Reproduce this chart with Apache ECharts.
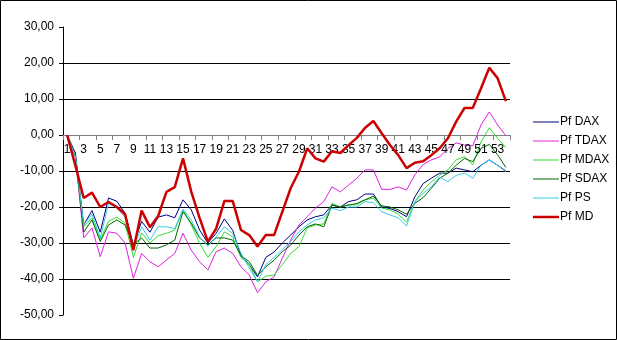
<!DOCTYPE html>
<html>
<head>
<meta charset="utf-8">
<script src="https://cdn.jsdelivr.net/npm/echarts@6/dist/echarts.min.js"></script>
<style>
html,body{margin:0;padding:0;background:#fff;}
#c{width:617px;height:340px;}
</style>
</head>
<body>
<div id="c"></div>
<script>
var categories = [];
for (var i = 1; i <= 54; i++) categories.push(String(i));

var seriesNames = ['Pf DAX', 'Pf TDAX', 'Pf MDAX', 'Pf SDAX', 'Pf PS', 'Pf MD'];

var pfDAX = [0, -5, -25, -21, -27, -17.5, -18.4, -21.7, -30.5, -24, -27, -22.8, -22.2, -23, -18, -20.8, -26.4, -30, -27.3, -23.3, -26.5, -33.5, -36, -39.4, -34, -32.5, -30, -27.8, -25.5, -23.6, -22.7, -22.2, -19.4, -20, -18.5, -18, -16.4, -16.4, -20, -20.4, -21.3, -22.7, -17.2, -13.5, -12, -10.6, -10.6, -9.2, -9.7, -10.2, -8.4, -6.9, -8.4, -10];
var pfTDAX = [0, -6, -28.6, -25.8, -33.8, -26.9, -27.3, -30, -39.8, -32.9, -35.2, -36.6, -34.7, -32.9, -27.3, -32, -35.2, -37.5, -32.4, -31.4, -32.9, -36.6, -38.9, -43.8, -40.8, -39.4, -34.2, -29.2, -25, -22.7, -20.3, -18.5, -14.4, -15.8, -13.9, -12, -9.7, -9.7, -15.1, -15.1, -14.4, -15.3, -11.1, -8.2, -6.9, -6.1, -3.7, -2.2, -2.8, -3, 2.8, 6.4, 2.8, -0.2];
var pfMDAX = [0, -6, -25.5, -23, -29, -24, -22.8, -24.5, -34, -27.2, -30, -28, -27.3, -26.4, -20.8, -25, -30, -34, -31, -26.9, -28.3, -34, -36, -40.8, -39.2, -38.9, -36, -32.9, -31, -25.8, -25, -24.7, -19, -20, -19.4, -19.4, -18, -17.5, -20.3, -20.8, -22, -24.2, -18.6, -15.3, -13, -11.1, -9.7, -6.9, -6, -8.3, -1.9, 2, -0.9, -3.5];
var pfSDAX = [0, -6, -27, -23.6, -29.6, -25, -23.6, -25, -30.5, -28.6, -31.4, -31.4, -30.5, -29.2, -21.3, -24.5, -28.6, -30.5, -28.6, -28.6, -29.2, -33.5, -35.2, -39, -36.6, -34.8, -32.4, -30.6, -27.8, -25.5, -24.7, -25.5, -19.5, -20, -19.5, -19, -18, -17, -19.7, -20, -20.8, -22, -19, -17.4, -14.8, -12, -10.6, -8.4, -6.5, -7.4, -3.7, -2.6, -5.5, -9];
var pfPS = [0, -6, -25, -22, -28.6, -19, -20.2, -22.8, -31.4, -25.5, -29.2, -25.5, -25.5, -26, -20.6, -23.6, -28.3, -31, -28.3, -25.5, -27.4, -32.8, -37, -40.8, -36, -34, -31.8, -29.6, -26.9, -25, -23.6, -23, -20.3, -21, -20, -20, -18.5, -18.8, -21.3, -22.2, -23, -25.3, -18.6, -16.2, -14.4, -11.7, -13, -11.2, -10.6, -12, -8.4, -6.9, -8.4, -10.2];
var pfMD = [0, -8.5, -17.5, -16, -20, -18.6, -20, -22, -32, -21, -25.6, -22.5, -15.8, -14.5, -6.5, -15.8, -23, -29.6, -26, -18.3, -18.3, -26.4, -27.8, -31, -27.8, -27.8, -21.3, -14.8, -10.2, -3.7, -6.5, -7.4, -4.5, -5, -2.8, -0.8, 2, 3.9, 0.5, -2.8, -5.6, -9.2, -7.7, -7.3, -5.6, -3.7, -0.9, 3.7, 7.5, 7.5, 13, 18.7, 15.8, 9.4];

var yTicks = [-50, -40, -30, -20, -10, 0, 10, 20, 30];

var colors = ['#000080', '#e020e0', '#33dd33', '#006400', '#33ccee', '#cc0000'];
var dataSets = [pfDAX, pfTDAX, pfMDAX, pfSDAX, pfPS, pfMD];

var FONT = 'Liberation Sans, Arial, sans-serif';

var chart = echarts.init(document.getElementById('c'), null, {renderer: 'canvas'});

var series = seriesNames.map(function (name, k) {
  return {
    name: name,
    type: 'line',
    data: dataSets[k],
    symbol: 'none',
    smooth: false,
    z: k === 5 ? 5 : 3,
    lineStyle: {color: colors[k], width: k === 5 ? 2.5 : 1},
    itemStyle: {color: colors[k]},
    emphasis: {disabled: true},
    animation: false
  };
});

chart.setOption({
  animation: false,
  backgroundColor: '#ffffff',
  textStyle: {fontFamily: FONT},
  graphic: [{
    type: 'rect',
    shape: {x: 0.5, y: 0.5, width: 616, height: 339},
    style: {fill: 'none', stroke: '#000', lineWidth: 1},
    silent: true, z: 100
  }],
  grid: {left: 63, right: 107, top: 27, bottom: 25, containLabel: false},
  legend: {
    orient: 'vertical',
    left: 528,
    top: 111,
    itemWidth: 26,
    itemHeight: 14,
    itemGap: 7,
    textStyle: {fontFamily: FONT, fontSize: 12, color: '#000', padding: [0, 0, 0, -4]},
    data: seriesNames.map(function (n, k) {
      return {name: n, icon: 'path://M0,0 L26,0 L26,' + (k === 5 ? 2.5 : 1) + ' L0,' + (k === 5 ? 2.5 : 1) + ' Z'};
    })
  },
  xAxis: {
    type: 'category',
    data: categories,
    boundaryGap: true,
    offset: -180,
    axisLine: {onZero: false, lineStyle: {color: '#808080', width: 1}},
    axisTick: {show: true, length: 5, lineStyle: {color: '#808080'}},
    axisLabel: {interval: 1, color: '#000', fontSize: 12, fontFamily: FONT, margin: 9},
    splitLine: {show: false},
    z: 4
  },
  yAxis: {
    type: 'value',
    min: -50,
    max: 30,
    interval: 10,
    axisLine: {show: true, lineStyle: {color: '#000', width: 1}},
    axisTick: {show: true, length: 4, lineStyle: {color: '#000'}},
    axisLabel: {
      color: '#000', fontSize: 12, fontFamily: FONT, margin: 9,
      formatter: function (v) { return v.toFixed(2).replace('.', ','); }
    },
    splitLine: {show: true, showMinLine: false, showMaxLine: false, lineStyle: {color: '#000', width: 1}}
  },
  series: series
});
</script>
</body>
</html>
